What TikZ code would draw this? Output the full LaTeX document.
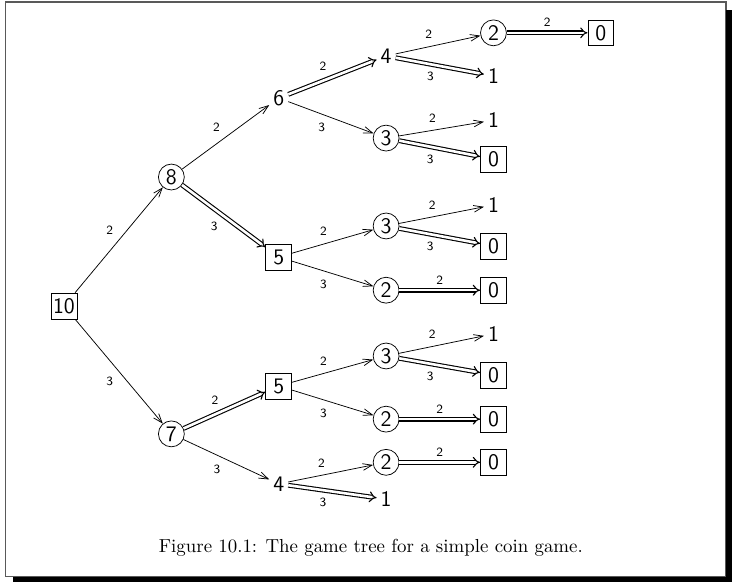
\documentclass[tikz,border=0pt]{standalone}
\usetikzlibrary{arrows.meta}
\begin{document}
\begin{tikzpicture}[
  font=\sffamily\fontsize{12}{14}\selectfont,
  box/.style={draw, minimum size=14pt, inner sep=1pt},
  coin/.style={draw, circle, minimum size=14pt, inner sep=1pt},
  bare/.style={inner sep=2pt},
  move/.style={-{Straight Barb[length=5pt,width=3.6pt]}, line width=0.4pt},
  forced/.style={double, double distance=1.4pt, -{Implies[scale=1.1]}, line width=0.6pt},
  over/.style={font=\sffamily\fontsize{6.8}{8}\selectfont, inner sep=3pt, auto},
  under/.style={over, swap}
]
\useasboundingbox (-1.216,5.814) rectangle (12.692,-5.244);
% frame with shadow
\draw[black!65, line width=0.8pt] (-1.11,5.78) rectangle (12.58,-5.14);
\fill (-0.97,-5.14) rectangle (12.692,-5.244);
\fill (12.58,5.62) rectangle (12.692,-5.244);

\node[box] (n10) at (0,0) {10};
\node[coin] (n8) at (2.04,2.45) {8};
\node[coin] (n7) at (2.04,-2.43) {7};
\node[bare] (n6) at (4.08,3.95) {6};
\node[box] (n5a) at (4.08,0.93) {5};
\node[box] (n5b) at (4.08,-1.52) {5};
\node[bare] (n4b) at (4.08,-3.38) {4};
\node[bare] (n4a) at (6.12,4.75) {4};
\node[coin] (n3a) at (6.12,3.19) {3};
\node[coin] (n3b) at (6.12,1.52) {3};
\node[coin] (n2a) at (6.12,0.30) {2};
\node[coin] (n3c) at (6.12,-0.95) {3};
\node[coin] (n2b) at (6.12,-2.15) {2};
\node[coin] (n2c) at (6.12,-2.97) {2};
\node[bare] (n1d) at (6.12,-3.67) {1};
\node[coin] (n2d) at (8.16,5.19) {2};
\node[bare] (n1a) at (8.16,4.37) {1};
\node[bare] (n1b) at (8.16,3.53) {1};
\node[box] (n0a) at (8.16,2.79) {0};
\node[bare] (n1c) at (8.16,1.92) {1};
\node[box] (n0b) at (8.16,1.14) {0};
\node[box] (n0c) at (8.16,0.30) {0};
\node[bare] (n1e) at (8.16,-0.53) {1};
\node[box] (n0d) at (8.16,-1.31) {0};
\node[box] (n0e) at (8.16,-2.15) {0};
\node[box] (n0f) at (8.16,-2.97) {0};
\node[box] (n0g) at (10.20,5.19) {0};

\draw[move] (n10) -- node[over] {2} (n8);
\draw[move] (n10) -- node[under] {3} (n7);
\draw[move] (n8) -- node[over] {2} (n6);
\draw[forced] (n8) -- node[under] {3} (n5a);
\draw[forced] (n7) -- node[over] {2} (n5b);
\draw[move] (n7) -- node[under] {3} (n4b);
\draw[forced] (n6) -- node[over] {2} (n4a);
\draw[move] (n6) -- node[under] {3} (n3a);
\draw[move] (n4a) -- node[over] {2} (n2d);
\draw[forced] (n4a) -- node[under] {3} (n1a);
\draw[forced] (n2d) -- node[over] {2} (n0g);
\draw[move] (n3a) -- node[over] {2} (n1b);
\draw[forced] (n3a) -- node[under] {3} (n0a);
\draw[move] (n5a) -- node[over] {2} (n3b);
\draw[move] (n5a) -- node[under] {3} (n2a);
\draw[move] (n3b) -- node[over] {2} (n1c);
\draw[forced] (n3b) -- node[under] {3} (n0b);
\draw[forced] (n2a) -- node[over] {2} (n0c);
\draw[move] (n5b) -- node[over] {2} (n3c);
\draw[move] (n5b) -- node[under] {3} (n2b);
\draw[move] (n3c) -- node[over] {2} (n1e);
\draw[forced] (n3c) -- node[under] {3} (n0d);
\draw[forced] (n2b) -- node[over] {2} (n0e);
\draw[move] (n4b) -- node[over] {2} (n2c);
\draw[forced] (n4b) -- node[under] {3} (n1d);
\draw[forced] (n2c) -- node[over] {2} (n0f);

\node[font=\rmfamily\fontsize{10.2}{12}\selectfont] (cap) at (5.83,-4.60) {Figure 10.1: The game tree for a simple coin game.};
\end{tikzpicture}
\end{document}
